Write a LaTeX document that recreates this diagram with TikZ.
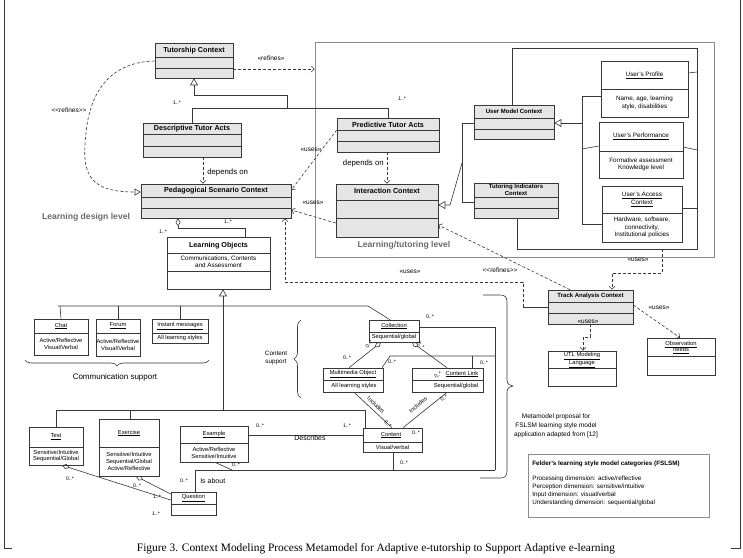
\documentclass[tikz,border=0pt]{standalone}
\usepackage{fontspec}
\setmainfont{Liberation Serif}
\setsansfont{Liberation Sans}
\usetikzlibrary{arrows.meta,fit,decorations.pathreplacing}
\definecolor{linec}{gray}{0.22}
\definecolor{boxfill}{gray}{0.9}
\definecolor{framec}{gray}{0.55}
\definecolor{levelc}{gray}{0.42}
\newcommand\clsbox[7][white]{%
  \node[fit={(#3,#4)(#5,#6)}, inner sep=0pt, draw=linec, fill=#1, line width=0.6pt] (#2) {};
  \foreach \dv in {#7}{\draw[linec, line width=0.6pt] (#3,\dv) -- (#5,\dv);}%
}
\tikzset{
  every path/.style={line width=0.6pt},
  ln/.style={draw=linec},
  dep/.style={draw=linec, dash pattern=on 3pt off 2pt, -{Straight Barb[length=3pt,width=6pt]}},
  deptri/.style={draw=linec, dash pattern=on 3pt off 2pt, -{Triangle[open,length=6pt,width=7pt]}},
  gen/.style={draw=linec, -{Triangle[open,length=7pt,width=8pt]}},
  agg/.style={draw=linec, {Diamond[open,length=8pt,width=5pt]}-},
  ttl/.style={font=\sffamily\bfseries\fontsize{7.2}{8.5}\selectfont, inner sep=0pt, text=black},
  sttl/.style={font=\sffamily\bfseries\fontsize{6}{6.6}\selectfont, inner sep=0pt, align=center, text=black},
  bdy/.style={font=\sffamily\fontsize{6.3}{7.4}\selectfont, inner sep=0pt, align=center, text=black},
  sbdy/.style={font=\sffamily\fontsize{5.8}{6.9}\selectfont, inner sep=0pt, align=center, text=black},
  mult/.style={font=\sffamily\fontsize{5.2}{6}\selectfont, inner sep=0pt, text=black},
  lbl/.style={font=\sffamily\fontsize{6.5}{7.5}\selectfont, inner sep=0pt, text=black},
  dlbl/.style={font=\sffamily\fontsize{7.8}{9}\selectfont, inner sep=0pt, text=black},
  lvl/.style={font=\sffamily\bfseries\fontsize{8.6}{10}\selectfont, inner sep=0pt, text=levelc},
}
\begin{document}
\begin{tikzpicture}[x=1pt,y=-1pt]
\useasboundingbox (0,0) rectangle (743,557);
\fill[white] (0,0) rectangle (743,557);
% outer frame marks
\draw[linec] (4,0) -- (4,548) -- (12,548);
\draw[linec] (731,548) -- (740,548) -- (740,0);

% big learning/tutoring frame
\node[fit={(315,42)(714,257)}, inner sep=0pt, draw=framec, line width=0.8pt] (frame) {};

% classes
\clsbox[boxfill]{tut}{155}{43}{233}{78}{57,68}
\clsbox[boxfill]{dta}{143}{123}{241}{157}{134,146}
\clsbox[boxfill]{ped}{141}{184}{291}{218}{197,208}
\clsbox{lo}{167}{237}{270}{289}{253,271}
\clsbox[boxfill]{pta}{337}{118}{439}{152}{130,141}
\clsbox[boxfill]{ic}{336}{184}{438}{237}{200,218}
\clsbox[boxfill]{umc}{474}{105}{554}{139}{118,129}
\clsbox[boxfill]{tic}{474}{183}{558}{218}{197,208}
\clsbox{up}{601}{61}{688}{117}{89}
\clsbox{uperf}{599}{122}{683}{178}{151}
\clsbox{uacc}{602}{186}{682}{242}{213}
\clsbox[boxfill]{tac}{548}{290}{633}{324}{302,313}
\clsbox{utl}{548}{351}{616}{386}{368}
\clsbox{obs}{647}{338}{715}{375}{356}
\clsbox{chat}{34}{319}{88}{355}{333}
\clsbox{forum}{96}{319}{140}{356}{333}
\clsbox{im}{152}{319}{208}{343}{333}
\clsbox{coll}{369}{320}{419}{342}{332}
\clsbox{mmo}{323}{368}{383}{392}{380}
\clsbox{cl}{412}{368}{483}{392}{380}
\clsbox{content}{363}{428}{422}{452}{442}
\clsbox{test}{29}{427}{83}{465}{447}
\clsbox{ex}{99}{419}{159}{476}{447}
\clsbox{exa}{180}{426}{248}{462}{443}
\clsbox{q}{171}{492}{216}{515}{504}
\node[fit={(528,454)(709,517)}, inner sep=0pt, draw=framec] (felder) {};

% class texts
\node[ttl] (tut-t) at (194,50.5) {Tutorship Context};
\node[ttl] (dta-t) at (192,129) {Descriptive Tutor Acts};
\node[ttl] (ped-t) at (216,191) {Pedagogical Scenario Context};
\node[ttl] (lo-t) at (218.5,245.5) {Learning Objects};
\node[bdy] (lo-b) at (218.5,262) {Communications, Contents\\and Assessment};
\node[ttl] (pta-t) at (388,124.5) {Predictive Tutor Acts};
\node[ttl] (ic-t) at (387,190.5) {Interaction Context};
\node[sttl] (umc-t) at (514,111.5) {User Model Context};
\node[sttl] (tic-t) at (516,190) {Tutoring Indicators\\Context};
\node[bdy] (up-t) at (644.5,75) {\underline{User's Profile}};
\node[bdy] (up-b) at (644.5,103) {Name, age, learning\\style, disabilities};
\node[bdy] (uperf-t) at (641,136.5) {\underline{User's Performance}};
\node[bdy] (uperf-b) at (641,164.5) {Formative assessment\\Knowledge level};
\node[bdy] (uacc-t) at (642,199.5) {\underline{User's Access}\\\underline{Context}};
\node[bdy] (uacc-b) at (642,227.5) {Hardware, software,\\connectivity,\\Institutional policies};
\node[sttl] (tac-t) at (590.5,296) {Track Analysis Context};
\node[sbdy, font=\sffamily\fontsize{5.8}{6.6}\selectfont] (utl-t) at (582,360) {\underline{UTL Modeling}\\\underline{Language}};
\node[sbdy, font=\sffamily\fontsize{5.8}{6.6}\selectfont] (obs-t) at (681,347.5) {\underline{Observation}\\\underline{needs}};
\node[sbdy] (chat-t) at (61,326) {\underline{Chat}};
\node[sbdy] (chat-b) at (61,344) {Active/Reflective\\Visual/Verbal};
\node[sbdy] (forum-t) at (118,326) {\underline{Forum}};
\node[sbdy] (forum-b) at (118,344.5) {Active/Reflective\\Visual/Verbal};
\node[sbdy] (im-t) at (180,326) {\underline{Instant messages}};
\node[sbdy] (im-b) at (180,338) {All learning styles};
\node[sbdy] (coll-t) at (394,326) {\underline{Collection}};
\node[sbdy] (coll-b) at (394,337) {Sequential/global};
\node[sbdy] (mmo-t) at (353,374) {\underline{Multimedia Object}};
\node[sbdy] (mmo-b) at (354,386) {All learning styles};
\node[sbdy] (cl-t) at (462,374) {\underline{Content Link}};
\node[sbdy] (cl-b) at (456,386) {Sequential/global};
\node[sbdy] (content-t) at (391,435) {\underline{Content}};
\node[sbdy] (content-b) at (392.5,447) {Visual/verbal};
\node[sbdy] (test-t) at (56,437) {\underline{Test}};
\node[sbdy] (test-b) at (56,456) {Sensitive/Intuitive\\Sequential/Global};
\node[sbdy] (ex-t) at (129,433) {\underline{Exercise}};
\node[sbdy] (ex-b) at (129,461.5) {Sensitive/Intuitive\\Sequential/Global\\Active/Reflective};
\node[sbdy] (exa-t) at (214,434.5) {\underline{Example}};
\node[sbdy] (exa-b) at (214,452.5) {Active/Reflective\\Sensitive/Intuitive};
\node[sbdy] (q-t) at (193.5,498) {\underline{Question}};

% Felder text
\node[font=\sffamily\bfseries\fontsize{6.3}{7.5}\selectfont, inner sep=0pt, anchor=west] (f0) at (532,464) {Felder's learning style model categories (FSLSM)};
\node[bdy, align=left, anchor=north west, font=\sffamily\fontsize{6.3}{7.8}\selectfont] (f1) at (532,476) {Processing dimension: active/reflective\\Perception dimension: sensitive/intuitive\\Input dimension: visual/verbal\\Understanding dimension: sequential/global};

% level labels
\node[lvl] (ldl) at (86,217) {Learning design level};
\node[lvl] (ltl) at (404,245) {Learning/tutoring level};

% Tutorship generalization
\draw[gen] (287,108) -- (287,95) -- (194,95) -- (194,0 |- tut.south);
\draw[ln] (192,0 |- dta.north) -- (192,108) -- (388,108) -- (388,0 |- pta.north);
\node[mult] (m1) at (177,103) {1..*};
\node[mult] (m2) at (402,99) {1..*};

% dependencies
\draw[dep] (203,0 |- dta.south) -- (203,0 |- ped.north);
\node[dlbl, anchor=west] (dep1) at (207,172) {depends on};
\draw[dep] (387,0 |- pta.south) -- (387,0 |- ic.north);
\node[dlbl, anchor=east] (dep2) at (384,163) {depends on};
\draw[dep] (tut.east |- 0,69) -- (frame.west |- 0,69);
\node[lbl] (ref1) at (271,58) {«refines»};
\draw[deptri] (tut.west |- 0,61) .. controls (110,62) and (92,92) .. (87,125) .. controls (81,170) and (84,192) .. (ped.west |- 0,192);
\node[lbl] (ref2) at (69,110) {<{}<refines>{}>};
\draw[dep] (pta.west |- 0,130) -- (ped.east |- 0,190);
\node[lbl] (use1) at (311,150) {«uses»};
\draw[dep] (ic.west |- 0,223) -- (ped.east |- 0,210);
\node[lbl] (use2) at (313,203) {«uses»};

% interaction generalization
\draw[gen] (462,163) -- (450,205) -- (ic.east |- 0,205);
\draw[ln] (umc.west |- 0,123) -- (462,123) -- (462,202) -- (tic.west |- 0,202);

% user model generalization
\draw[gen] (582,123) -- (umc.east |- 0,123);
\draw[ln] (up.west |- 0,96) -- (582,96) -- (582,224) -- (uacc.west |- 0,224);
\draw[ln] (582,149) -- (uperf.west |- 0,146);

% inner frame lines
\draw[ln] (512,0 |- umc.north) -- (512,48) -- (697,48) -- (697,249) -- (517,249) -- (517,0 |- tic.south);
\draw[ln] (up.east |- 0,73) -- (697,72);
\draw[ln] (uperf.east |- 0,147) -- (697,150);
\draw[ln] (uacc.east |- 0,208) -- (697,208);

% track analysis
\draw[dep] (662,249) -- (662,273) -- (612,273) -- (612,0 |- tac.north);
\node[lbl] (use3) at (638,260) {«uses»};
\draw[dep] (570,0 |- tac.north) -- (ic.east |- 0,225);
\node[lbl] (ref3) at (500,270) {<{}<refines>{}>};
\draw[ln] (tac.west |- 0,307) -- (523,307);
\draw[dep] (523,307) -- (523,282) -- (285,282) -- (285,0 |- ped.south);
\node[lbl] (use4) at (410,272) {«uses»};
\draw[dep] (tac.east |- 0,305) -- (680,0 |- obs.north);
\node[lbl] (use5) at (659,308) {«uses»};
\draw[dep] (590,0 |- tac.south) -- (590,337) -- (583,337) -- (583,0 |- utl.north);
\node[lbl] (use6) at (588,322) {«uses»};

% learning objects
\draw[agg] (178,0 |- ped.south) -- (178,228) -- (245,228) -- (245,0 |- lo.north);
\node[mult] (m3) at (228,222) {1..*};
\node[mult] (m4) at (163,232) {1..*};
\draw[gen] (223,410) -- (223,0 |- lo.south);
\draw[ln] (58,306) -- (368,306) -- (390,0 |- coll.north);
\draw[ln] (60,306) -- (61,0 |- chat.north);
\draw[ln] (118,306) -- (118,0 |- forum.north);
\draw[ln] (180,306) -- (180,0 |- im.north);
\draw[ln] (56,0 |- test.north) -- (56,410) -- (365,410) -- (365,0 |- content.north);
\draw[ln] (130,410) -- (130,0 |- ex.north);

% collection
\draw[agg] (381,0 |- coll.south) -- (349,0 |- mmo.north);
\draw[agg] (412,0 |- coll.south) -- (447,0 |- cl.north);
\draw[ln] (coll.east |- 0,327) -- (495,327) -- (495,470);
\draw[ln] (382,0 |- mmo.north) -- (390,356) -- (495,356);
\draw[ln] (472,0 |- cl.north) -- (472,356);
\draw[ln] (354,0 |- mmo.south) -- (392,0 |- content.north);
\draw[ln] (447,0 |- cl.south) -- (403,0 |- content.north);
\node[lbl, font=\sffamily\fontsize{5.8}{7}\selectfont, rotate=-44] (inc1) at (376,405) {Includes};
\node[lbl, font=\sffamily\fontsize{5.8}{7}\selectfont, rotate=40] (inc2) at (418,405) {Includes};
\draw[ln] (393,0 |- content.south) -- (393,470);
\draw[ln] (195,0 |- q.north) -- (195,470) -- (495,470);
\draw[ln] (215,0 |- exa.south) -- (232,470);
\draw[ln] (exa.east |- 0,435) -- (content.west |- 0,435);
\node[dlbl, font=\sffamily\fontsize{7}{8}\selectfont] (desc) at (310,438) {Describes};
\draw[agg] (62,0 |- test.south) -- (q.west |- 0,500);
\draw[agg] (136,0 |- ex.south) -- (q.west |- 0,494);
\node[dlbl, font=\sffamily\fontsize{7}{8}\selectfont, anchor=west] (isab) at (200,481) {Is about};

% multiplicities
\node[mult] (m5) at (430,317) {0..*};
\node[mult] (m6) at (347,358) {0..*};
\node[mult] (m7) at (392,362) {0..*};
\node[mult] (m8) at (484,363) {0..*};
\node[mult, rotate=50] (m9) at (369,344) {0..*};
\node[mult, rotate=-50] (m10) at (421,345) {0..*};
\node[mult, rotate=40] (m11) at (438,375) {0..*};
\node[mult, rotate=-45] (m12) at (388,424) {0..*};
\node[mult, rotate=40] (m13) at (444,398) {0..*};
\node[mult] (m14) at (416,433) {0..*};
\node[mult] (m15) at (260,426) {0..*};
\node[mult] (m16) at (347,426) {1..*};
\node[mult] (m17) at (404,463) {0..*};
\node[mult] (m18) at (236,465) {0..*};
\node[mult] (m19) at (184,481) {0..*};
\node[mult] (m20) at (70,479) {0..*};
\node[mult] (m21) at (137,486) {0..*};
\node[mult] (m22) at (157,497) {1..*};
\node[mult] (m23) at (156,514) {1..*};

% braces
\draw[ln, decorate, decoration={brace, amplitude=6pt}] (209,360) -- (25,360);
\node[font=\sffamily\fontsize{8}{9}\selectfont, inner sep=0pt] (comsup) at (115,377) {Communication support};
\draw[ln, decorate, decoration={brace, amplitude=7pt}] (301,398) -- (301,320);
\node[bdy] (consup) at (276,358) {Content\\support};
\draw[ln] (483,295) -- (500,295) .. controls (505,295) and (507,297) .. (507,302) -- (507,380) .. controls (507,384) and (510,386) .. (513,386) .. controls (510,386) and (507,388) .. (507,392) -- (507,471) .. controls (507,476) and (505,478) .. (500,478) -- (480,478);
\node[bdy, font=\sffamily\fontsize{6.5}{8.8}\selectfont] (meta) at (556,426) {Metamodel proposal for\\FSLSM learning style model\\application adapted from [12]};

% caption
\node[font=\rmfamily\fontsize{11.4}{13}\selectfont, inner sep=0pt] (cap) at (376,549) {Figure 3. Context Modeling Process Metamodel for Adaptive e-tutorship to Support Adaptive e-learning};
\end{tikzpicture}
\end{document}
